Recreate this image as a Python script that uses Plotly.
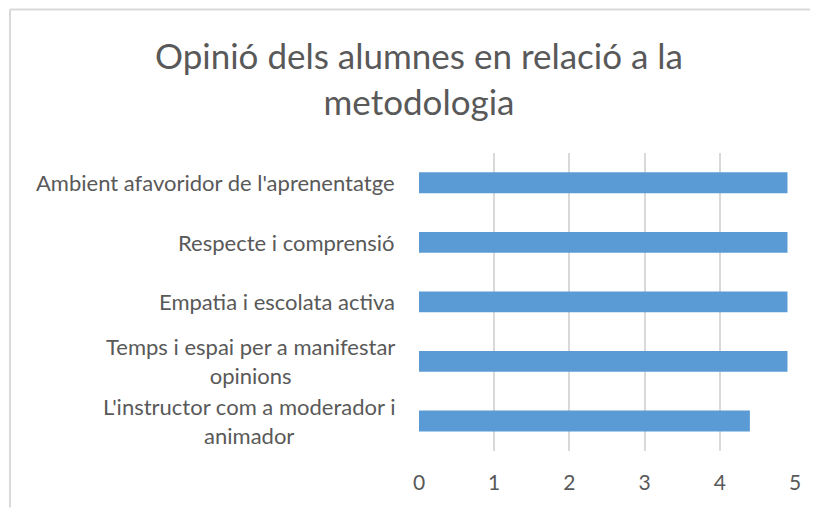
import plotly.graph_objects as go

categories = [
    "Ambient afavoridor de l'aprenentatge",
    "Respecte i comprensió",
    "Empatia i escolata activa",
    "Temps i espai per a manifestar<br>opinions",
    "L'instructor com a moderador i<br>animador",
]
values = [4.9, 4.9, 4.9, 4.9, 4.4]
x_ticks = [0, 1, 2, 3, 4, 5]

text_grey = "#595959"
font_family = "Lato, 'Open Sans', sans-serif"

# the page keeps the browser's 8px body margin, so the figure starts at (8, 8)
W, H = 810, 500
ml, mr, mt, mb = 410.5, 23, 144.6, 56.6
pw, ph = W - ml - mr, H - mt - mb


def px_to_paper_x(px):
    return (px - ml) / pw


def px_to_paper_y(py):
    return (H - mb - py) / ph


fig = go.Figure()
fig.add_trace(
    go.Bar(
        x=values,
        y=categories,
        orientation="h",
        marker=dict(color="#5B9BD5", line=dict(width=0)),
        width=0.35,
    )
)

for cat in categories:
    fig.add_annotation(
        x=px_to_paper_x(388), xref="paper", xanchor="right",
        y=cat, yref="y", yanchor="middle",
        text=cat, showarrow=False, align="center",
        font=dict(family=font_family, size=22, color=text_grey),
    )

fig.add_annotation(
    x=px_to_paper_x(410), xref="paper", xanchor="center",
    y=px_to_paper_y(69), yref="paper", yanchor="middle",
    text="Opinió dels alumnes en relació a la<br>metodologia",
    showarrow=False, align="center",
    font=dict(family=font_family, size=35, color=text_grey),
)

# chart frame: only its left and top edges fall inside the picture
fig.add_shape(
    type="line", xref="paper", yref="paper",
    x0=px_to_paper_x(1), x1=px_to_paper_x(1),
    y0=px_to_paper_y(0.5), y1=px_to_paper_y(H),
    line=dict(color="#D9D9D9", width=2),
)
fig.add_shape(
    type="line", xref="paper", yref="paper",
    x0=px_to_paper_x(1), x1=px_to_paper_x(W),
    y0=px_to_paper_y(0.8), y1=px_to_paper_y(0.8),
    line=dict(color="#D9D9D9", width=2),
)

fig.update_xaxes(
    range=[0, 5], tickvals=x_ticks, showgrid=True, gridcolor="#D9D9D9", gridwidth=1.5,
    zeroline=False, showline=False, ticks="", ticklabelstandoff=17,
    tickfont=dict(family=font_family, size=21, color=text_grey),
)
fig.update_yaxes(
    categoryorder="array", categoryarray=categories[::-1],
    showticklabels=False, showgrid=False, zeroline=False,
)
fig.update_layout(
    width=W, height=H,
    margin=dict(l=ml, r=mr, t=mt, b=mb),
    plot_bgcolor="white", paper_bgcolor="white",
    showlegend=False,
)

fig.write_html("out.html")
